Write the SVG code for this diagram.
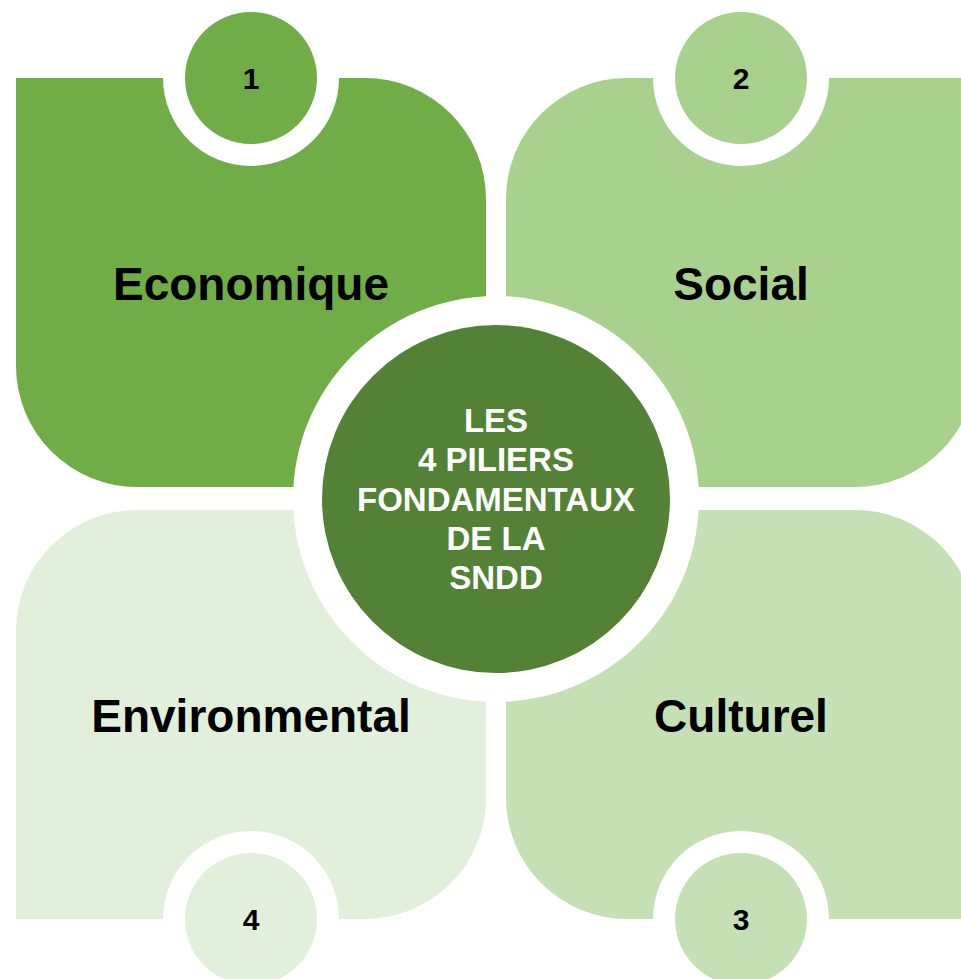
<svg xmlns="http://www.w3.org/2000/svg" width="961" height="979" viewBox="0 0 961 979">
<style>
.lbl{font-family:"Liberation Sans",Arial,sans-serif;font-weight:bold;font-size:46px;fill:#000;text-anchor:middle}
.num{font-family:"Liberation Sans",Arial,sans-serif;font-weight:bold;font-size:30px;fill:#000;text-anchor:middle}
.ctr{font-family:"Liberation Sans",Arial,sans-serif;font-weight:bold;font-size:33px;fill:#fff;text-anchor:middle}
.ring{fill:#fff}
</style>
<rect width="961" height="979" fill="#fff"/>
<g id="economique">
<path d="M16,78 H365 A121,121 0 0 1 486,199 V487 H137 A121,121 0 0 1 16,366 Z" fill="#70AD47"/>
<circle class="ring" cx="251" cy="78" r="88"/>
<circle cx="251" cy="78" r="66" fill="#70AD47"/>
<text class="num" x="251" y="89">1</text>
<text class="lbl" x="251" y="300">Economique</text>
</g>
<g id="social">
<path d="M506,199 A121,121 0 0 1 627,78 H976 V366 A121,121 0 0 1 855,487 H506 Z" fill="#A9D18E"/>
<circle class="ring" cx="741" cy="78" r="88"/>
<circle cx="741" cy="78" r="66" fill="#A9D18E"/>
<text class="num" x="741" y="89">2</text>
<text class="lbl" x="741" y="300">Social</text>
</g>
<g id="culturel">
<path d="M506,510 H855 A121,121 0 0 1 976,631 V919 H627 A121,121 0 0 1 506,798 Z" fill="#C5E0B4"/>
<circle class="ring" cx="741" cy="919" r="88"/>
<circle cx="741" cy="919" r="66" fill="#C5E0B4"/>
<text class="num" x="741" y="930">3</text>
<text class="lbl" x="741" y="732">Culturel</text>
</g>
<g id="environmental">
<path d="M16,631 A121,121 0 0 1 137,510 H486 V798 A121,121 0 0 1 365,919 H16 Z" fill="#E2EFDA"/>
<circle class="ring" cx="251" cy="919" r="88"/>
<circle cx="251" cy="919" r="66" fill="#E2EFDA"/>
<text class="num" x="251" y="930">4</text>
<text class="lbl" x="251" y="732">Environmental</text>
</g>
<g id="centre">
<circle class="ring" cx="496" cy="499" r="203"/>
<circle cx="496" cy="499" r="174" fill="#538135"/>
<text class="ctr" x="496" y="432">LES</text>
<text class="ctr" x="496" y="471">4 PILIERS</text>
<text class="ctr" x="496" y="511">FONDAMENTAUX</text>
<text class="ctr" x="496" y="550">DE LA</text>
<text class="ctr" x="496" y="589">SNDD</text>
</g>
<g id="connectors"/>
</svg>
